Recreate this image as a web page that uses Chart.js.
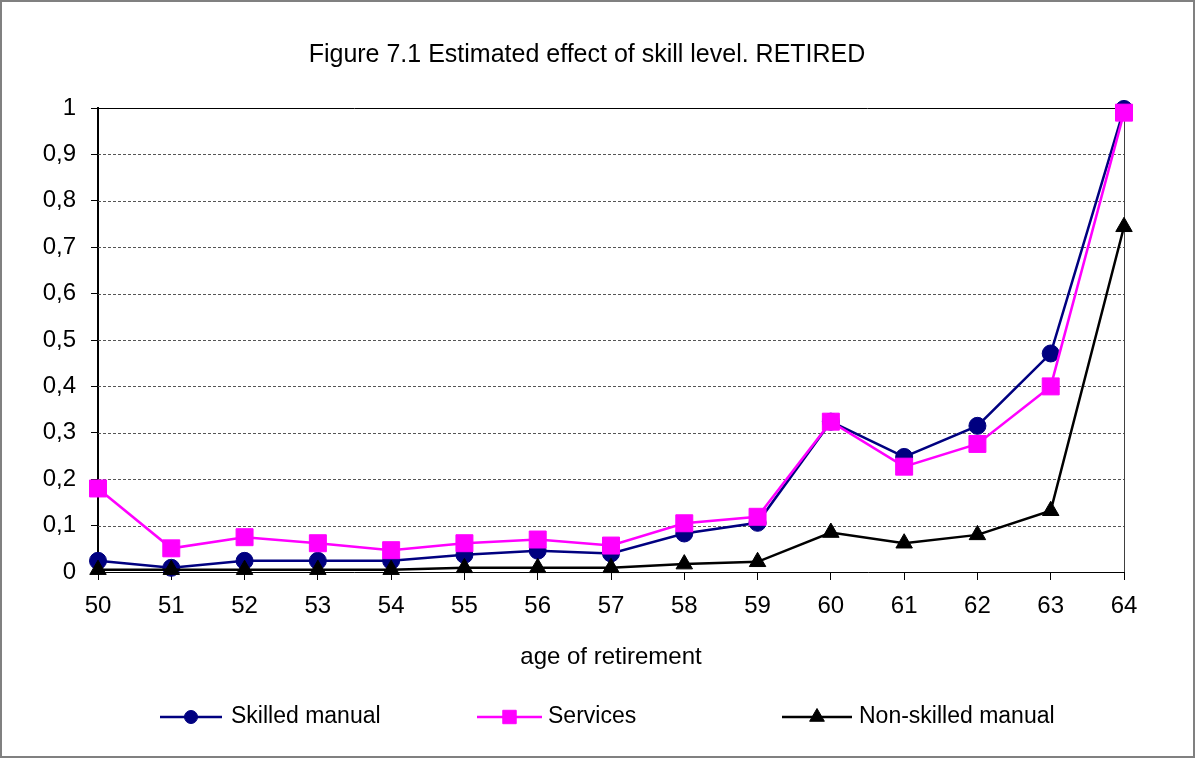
<!DOCTYPE html>
<html>
<head>
<meta charset="utf-8">
<script src="https://cdn.jsdelivr.net/npm/chart.js@4"></script>
<style>
  html, body { margin: 0; padding: 0; background: #ffffff; }
  #wrap { width: 1195px; height: 758px; }
</style>
</head>
<body>
<div id="wrap"><canvas id="c" width="1195" height="758"></canvas></div>
<script>
// Ages of retirement (category axis)
const ages = ['50','51','52','53','54','55','56','57','58','59','60','61','62','63','64'];

// Estimated effect by skill level
const skilledManual    = [0.024, 0.009, 0.024, 0.024, 0.024, 0.037, 0.046, 0.040, 0.083, 0.106, 0.324, 0.248, 0.315, 0.471, 0.998];
const services         = [0.180, 0.051, 0.075, 0.062, 0.047, 0.062, 0.070, 0.057, 0.105, 0.119, 0.324, 0.227, 0.276, 0.400, 0.990];
const nonSkilledManual = [0.005, 0.005, 0.005, 0.005, 0.005, 0.009, 0.009, 0.009, 0.017, 0.022, 0.085, 0.062, 0.080, 0.132, 0.744];

const seriesNames = ['Skilled manual', 'Services', 'Non-skilled manual'];
const yTickValues = [0, 0.1, 0.2, 0.3, 0.4, 0.5, 0.6, 0.7, 0.8, 0.9, 1];

const chartTitle = 'Figure 7.1 Estimated effect of skill level. RETIRED';
const xAxisTitle = 'age of retirement';

const FONT = '"Liberation Sans", Arial, sans-serif';

// Legend entries drawn with a line through the marker
const legendSpots = [
  { x1: 160, x2: 222, tx: 231 },
  { x1: 477, x2: 542, tx: 548 },
  { x1: 782, x2: 852, tx: 859 }
];
const legendMarkerRadius = [6.5, 9.5, 8.5];

const framePlugin = {
  id: 'frame',
  beforeDraw(chart) {
    const ctx = chart.ctx;
    ctx.save();
    ctx.fillStyle = '#ffffff';
    ctx.fillRect(0, 0, chart.width, chart.height);
    ctx.restore();
  },
  beforeDatasetsDraw(chart) {
    const ctx = chart.ctx;
    const ys = chart.scales.y;
    const area = chart.chartArea;
    ctx.save();
    // horizontal grid lines
    yTickValues.forEach(v => {
      if (v === 0) return;
      const py = Math.round(ys.getPixelForValue(v)) + 0.5;
      ctx.beginPath();
      ctx.lineWidth = 1;
      if (v === 1) {
        ctx.setLineDash([]);
        ctx.strokeStyle = '#000000';
      } else {
        ctx.setLineDash([3, 2]);
        ctx.strokeStyle = '#555555';
      }
      ctx.moveTo(area.left, py);
      ctx.lineTo(area.right, py);
      ctx.stroke();
    });
    // right edge of the plot area
    ctx.setLineDash([]);
    ctx.strokeStyle = '#404040';
    ctx.lineWidth = 1;
    ctx.beginPath();
    ctx.moveTo(Math.round(area.right) + 0.5, area.top);
    ctx.lineTo(Math.round(area.right) + 0.5, area.bottom);
    ctx.stroke();
    ctx.restore();
  },
  afterDraw(chart) {
    const ctx = chart.ctx;
    ctx.save();
    // title
    ctx.fillStyle = '#000000';
    ctx.font = '25px ' + FONT;
    ctx.textAlign = 'center';
    ctx.textBaseline = 'alphabetic';
    ctx.fillText(chartTitle, 587, 62);

    // legend
    chart.data.datasets.forEach((ds, i) => {
      const spot = legendSpots[i];
      const y = 717;
      ctx.beginPath();
      ctx.setLineDash([]);
      ctx.strokeStyle = ds.borderColor;
      ctx.lineWidth = 2.5;
      ctx.moveTo(spot.x1, y);
      ctx.lineTo(spot.x2, y);
      ctx.stroke();
      ctx.fillStyle = ds.pointBackgroundColor;
      ctx.strokeStyle = ds.pointBorderColor;
      ctx.lineWidth = 1;
      Chart.helpers.drawPoint(ctx, {
        pointStyle: ds.pointStyle,
        rotation: 0,
        borderWidth: 1,
        radius: legendMarkerRadius[i]
      }, (spot.x1 + spot.x2) / 2, y);
      ctx.fillStyle = '#000000';
      ctx.textAlign = 'left';
      ctx.textBaseline = 'middle';
      ctx.font = '23px ' + FONT;
      ctx.fillText(ds.label, spot.tx, y);
    });

    // outer frame
    ctx.strokeStyle = '#808080';
    ctx.lineWidth = 2;
    ctx.strokeRect(1, 1, chart.width - 2, chart.height - 2);
    ctx.restore();
  }
};

new Chart(document.getElementById('c'), {
  type: 'line',
  data: {
    labels: ages,
    datasets: [
      {
        label: seriesNames[0],
        data: skilledManual,
        borderColor: '#000080',
        backgroundColor: '#000080',
        pointBackgroundColor: '#000080',
        pointBorderColor: '#000080',
        pointStyle: 'circle',
        pointRadius: 8.5,
        borderWidth: 2.5,
        pointBorderWidth: 1,
        tension: 0,
        clip: false,
        order: 3
      },
      {
        label: seriesNames[1],
        data: services,
        borderColor: '#FF00FF',
        backgroundColor: '#FF00FF',
        pointBackgroundColor: '#FF00FF',
        pointBorderColor: '#FF00FF',
        pointStyle: 'rect',
        pointRadius: 12,
        borderWidth: 2.5,
        pointBorderWidth: 1,
        tension: 0,
        clip: false,
        order: 2
      },
      {
        label: seriesNames[2],
        data: nonSkilledManual,
        borderColor: '#000000',
        backgroundColor: '#000000',
        pointBackgroundColor: '#000000',
        pointBorderColor: '#000000',
        pointStyle: 'triangle',
        pointRadius: 9.5,
        borderWidth: 2.5,
        pointBorderWidth: 1,
        tension: 0,
        clip: false,
        order: 1
      }
    ]
  },
  options: {
    responsive: false,
    animation: false,
    devicePixelRatio: 1,
    layout: { padding: { top: 108, right: 71, bottom: 0, left: 0 } },
    plugins: {
      legend: { display: false },
      title: { display: false },
      tooltip: { enabled: false }
    },
    scales: {
      x: {
        type: 'category',
        offset: false,
        afterFit(scale) { scale.height = 186; },
        grid: {
          display: true,
          drawOnChartArea: false,
          drawTicks: true,
          tickLength: 8,
          color: '#000000',
          lineWidth: 1
        },
        border: { display: true, color: '#000000', width: 1 },
        ticks: {
          color: '#000000',
          font: { family: FONT, size: 24 },
          padding: 12,
          maxRotation: 0,
          autoSkip: false
        },
        title: {
          display: true,
          text: xAxisTitle,
          color: '#000000',
          font: { family: FONT, size: 24 },
          padding: { top: 0, bottom: 86 }
        }
      },
      y: {
        min: 0,
        max: 1,
        afterFit(scale) { scale.width = 98; },
        afterBuildTicks(scale) { scale.ticks = yTickValues.map(v => ({ value: v })); },
        grid: {
          display: true,
          drawOnChartArea: false,
          drawTicks: true,
          tickLength: 7,
          color: '#000000',
          lineWidth: 1
        },
        border: { display: true, color: '#000000', width: 2 },
        ticks: {
          color: '#000000',
          font: { family: FONT, size: 24 },
          padding: 15,
          callback(value) {
            if (value === 0) return '0';
            if (value === 1) return '1';
            return value.toFixed(1).replace('.', ',');
          }
        }
      }
    }
  },
  plugins: [framePlugin]
});
</script>
</body>
</html>
